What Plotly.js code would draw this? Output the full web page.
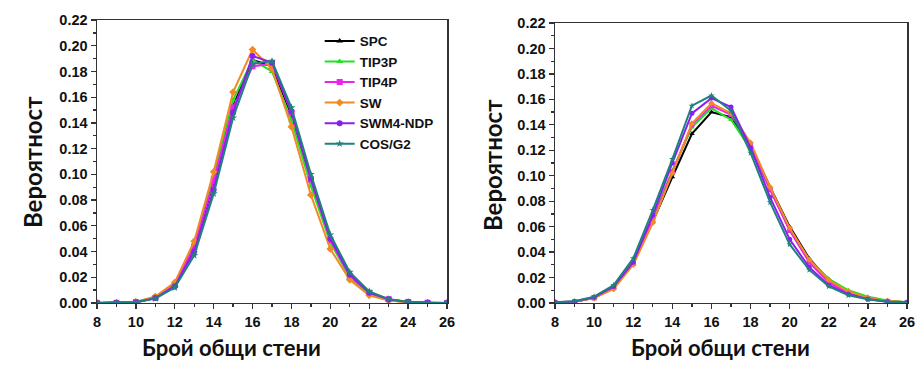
<!DOCTYPE html>
<html>
<head>
<meta charset="utf-8">
<script src="https://cdn.plot.ly/plotly-3.0.1.min.js"></script>
<style>html,body{margin:0;padding:0;background:#fff;}#chart{width:916px;height:367px;}</style>
</head>
<body>
<div id="chart"></div>
<script>
const xVals = [8,9,10,11,12,13,14,15,16,17,18,19,20,21,22,23,24,25,26];
const seriesNames = ["SPC","TIP3P","TIP4P","SW","SWM4-NDP","COS/G2"];

// Left panel
const leftSPC   = [0,0.0001,0.0007,0.004,0.014,0.043,0.094,0.153,0.189,0.184,0.146,0.095,0.050,0.022,0.008,0.0025,0.0007,0.0002,0];
const leftTIP3P = [0,0.0001,0.0008,0.0045,0.015,0.046,0.099,0.158,0.189,0.180,0.142,0.091,0.047,0.020,0.007,0.0022,0.0006,0.0002,0];
const leftTIP4P = [0,0.0001,0.0007,0.004,0.014,0.044,0.095,0.152,0.184,0.186,0.148,0.096,0.049,0.021,0.008,0.003,0.0008,0.0002,0];
const leftSW    = [0,0.0001,0.0009,0.005,0.016,0.048,0.102,0.164,0.197,0.182,0.137,0.084,0.042,0.018,0.006,0.002,0.0005,0.0001,0];
const leftSWM4  = [0,0.0001,0.0006,0.0038,0.013,0.040,0.088,0.148,0.192,0.187,0.149,0.097,0.050,0.022,0.008,0.0028,0.0008,0.0002,0];
const leftCOS   = [0,0.0001,0.0005,0.0035,0.012,0.037,0.085,0.144,0.186,0.188,0.152,0.100,0.053,0.024,0.009,0.003,0.0009,0.0002,0];

// Right panel
const rightSPC   = [0.0005,0.001,0.004,0.012,0.031,0.064,0.099,0.133,0.150,0.146,0.124,0.091,0.060,0.035,0.018,0.009,0.004,0.0015,0.0005];
const rightTIP3P = [0.0005,0.0012,0.0045,0.013,0.033,0.067,0.104,0.138,0.153,0.144,0.121,0.089,0.058,0.034,0.019,0.010,0.005,0.002,0.0005];
const rightTIP4P = [0.0005,0.001,0.004,0.012,0.031,0.065,0.103,0.140,0.155,0.148,0.124,0.089,0.057,0.032,0.016,0.008,0.0035,0.0013,0.0004];
const rightSW    = [0.0005,0.001,0.0038,0.011,0.030,0.063,0.102,0.141,0.157,0.149,0.126,0.091,0.059,0.034,0.018,0.009,0.004,0.0015,0.0005];
const rightSWM4  = [0.0005,0.0012,0.0045,0.013,0.032,0.069,0.110,0.149,0.161,0.154,0.122,0.083,0.050,0.028,0.014,0.007,0.003,0.001,0.0003];
const rightCOS   = [0.0006,0.0014,0.005,0.014,0.035,0.073,0.113,0.155,0.163,0.151,0.118,0.079,0.046,0.026,0.013,0.006,0.003,0.001,0.0003];

const colors = ["#000000","#22e022","#ee22ee","#f08a24","#8a1ef0","#1f8080"];
const symbols = ["triangle-up","triangle-up","square","diamond","circle","star"];
const leftData = [leftSPC,leftTIP3P,leftTIP4P,leftSW,leftSWM4,leftCOS];
const rightData = [rightSPC,rightTIP3P,rightTIP4P,rightSW,rightSWM4,rightCOS];

const traces = [];
seriesNames.forEach((n,i)=>{
  traces.push({x:xVals,y:leftData[i],name:n,type:"scatter",mode:"lines+markers",
    line:{color:colors[i],width:2},marker:{color:colors[i],symbol:symbols[i],size:6},
    xaxis:"x",yaxis:"y",legendgroup:n});
});
seriesNames.forEach((n,i)=>{
  traces.push({x:xVals,y:rightData[i],name:n,type:"scatter",mode:"lines+markers",
    line:{color:colors[i],width:2},marker:{color:colors[i],symbol:symbols[i],size:5},
    xaxis:"x2",yaxis:"y2",showlegend:false,legendgroup:n});
});

const tickFont = {family:"Liberation Sans, Arial, sans-serif",size:14.5,color:"#111",weight:"bold"};
function xa(domain, anchor){
  return {domain:domain,anchor:anchor,range:[8,26],dtick:2,tick0:8,ticks:"outside",ticklen:5,tickwidth:1.3,
    tickcolor:"#333",showline:true,linecolor:"#333",linewidth:1.5,mirror:true,showgrid:false,zeroline:false,
    tickfont:tickFont,minor:{dtick:1,ticks:"outside",ticklen:3,tickcolor:"#333",showgrid:false}};
}
function ya(domain, anchor){
  return {domain:domain,anchor:anchor,range:[0,0.22],dtick:0.02,tick0:0,tickformat:".2f",ticks:"outside",ticklen:5,tickwidth:1.3,
    tickcolor:"#333",showline:true,linecolor:"#333",linewidth:1.5,mirror:true,showgrid:false,zeroline:false,
    tickfont:tickFont,minor:{dtick:0.01,ticks:"outside",ticklen:3,tickcolor:"#333",showgrid:false}};
}
const yTitleFont = {family:"Lato, Open Sans, sans-serif",size:24,color:"#111",weight:"bold"};
const xTitleFont = {family:"Lato, Open Sans, sans-serif",size:22,color:"#111",weight:"bold"};
const layout = {
  width:916,height:367,margin:{l:0,r:0,t:0,b:0},paper_bgcolor:"#fff",plot_bgcolor:"#fff",
  showlegend:true,
  legend:{x:0.349,y:0.93,xanchor:"left",yanchor:"top",bgcolor:"rgba(0,0,0,0)",
    font:{family:"Liberation Sans, Arial, sans-serif",size:13.5,color:"#111",weight:"bold"},tracegroupgap:0},
  xaxis:xa([0.1059,0.488],"y"),
  yaxis:ya([0.1744,0.9455],"x"),
  xaxis2:xa([0.6059,0.9902],"y2"),
  yaxis2:ya([0.1744,0.9373],"x2"),
  annotations:[
    {text:"Вероятност",xref:"paper",yref:"paper",x:32/916,y:1-162/367,xanchor:"center",yanchor:"middle",textangle:-90,showarrow:false,font:yTitleFont},
    {text:"Вероятност",xref:"paper",yref:"paper",x:492/916,y:1-165/367,xanchor:"center",yanchor:"middle",textangle:-90,showarrow:false,font:yTitleFont},
    {text:"Брой общи стени",xref:"paper",yref:"paper",x:232/916,y:1-347/367,xanchor:"center",yanchor:"middle",showarrow:false,font:xTitleFont},
    {text:"Брой общи стени",xref:"paper",yref:"paper",x:720/916,y:1-347/367,xanchor:"center",yanchor:"middle",showarrow:false,font:xTitleFont}
  ]
};
Plotly.newPlot("chart",traces,layout,{displayModeBar:false,staticPlot:true});
</script>
</body>
</html>
